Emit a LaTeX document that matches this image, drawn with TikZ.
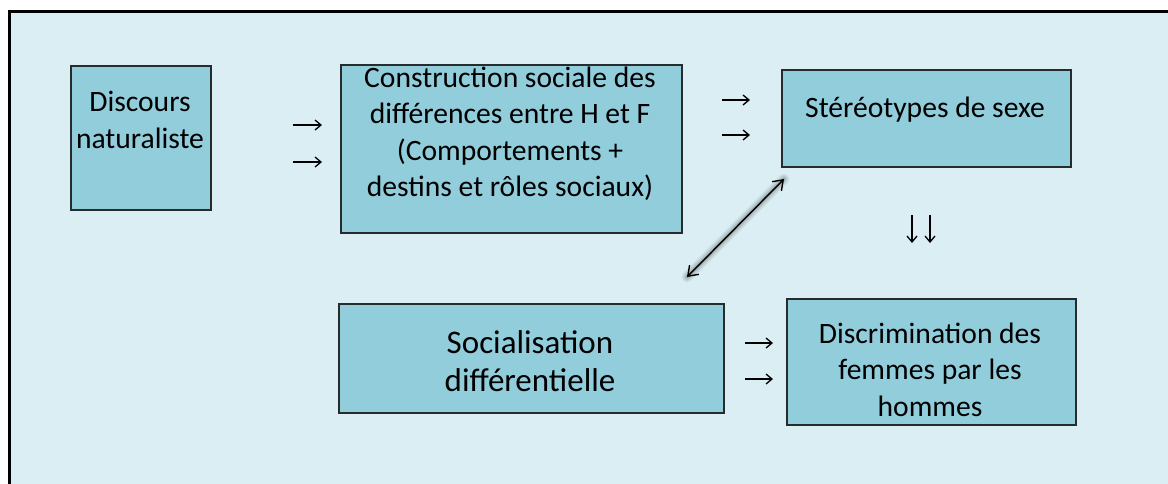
\documentclass[tikz,border=0pt]{standalone}
\usepackage{fontspec}
\setmainfont{Carlito}
\usetikzlibrary{arrows.meta}
\definecolor{bgblue}{HTML}{DAEEF3}
\definecolor{boxblue}{HTML}{92CDDC}
\definecolor{edgecol}{HTML}{262B2D}
\begin{document}
\begin{tikzpicture}[x=1pt,y=-1pt,
  box/.style={draw=edgecol, line width=1.8pt, fill=boxblue, anchor=north west, inner sep=0pt},
  lbl/.style={align=center, anchor=base, font=\fontsize{29.6}{36.5}\selectfont, inner sep=0pt},
  lblbig/.style={align=center, anchor=base, font=\fontsize{33}{37.5}\selectfont, inner sep=0pt},
  smallarrow/.style={line width=1.3pt, -{Straight Barb[length=6pt,width=10pt]}},
  bigarrow/.style={line width=1.4pt, {Straight Barb[length=9pt,width=13pt]}-{Straight Barb[length=9pt,width=13pt]}},
]
\useasboundingbox (0,0) rectangle (1168,483);
\fill[white] (0,0) rectangle (1168,483);
\draw[line width=2.6pt, fill=bgblue] (9.5,11.5) rectangle (1190,500);

\node[box, minimum width=140pt, minimum height=144pt] (b1) at (70,65) {};
\node[box, minimum width=341pt, minimum height=168pt] (b2) at (340,64) {};
\node[box, minimum width=289pt, minimum height=97pt] (b3) at (781,69) {};
\node[box, minimum width=385pt, minimum height=109pt] (b4) at (338,303) {};
\node[box, minimum width=289pt, minimum height=126pt] (b5) at (786,298) {};

% base anchor = baseline of the last line
\node[lbl] (t1) at (140,148) {Discours\\naturaliste};
\node[lbl] (t2) at (510,196.5) {Construction sociale des\\différences entre H et F\\(Comportements +\\destins et rôles sociaux)};
\node[lbl] (t3) at (925,117) {Stéréotypes de sexe};
\node[lblbig] (t4) at (530,391) {Socialisation\\différentielle};
\node[lbl] (t5) at (930,416) {Discrimination des\\femmes par les\\hommes};

\coordinate (p1a) at (293,125); \coordinate (q1a) at (322,125);
\coordinate (p1b) at (293,162); \coordinate (q1b) at (322,162);
\coordinate (p2a) at (722,100); \coordinate (q2a) at (750,100);
\coordinate (p2b) at (722,135); \coordinate (q2b) at (750,135);
\coordinate (p3a) at (745,343); \coordinate (q3a) at (773,343);
\coordinate (p3b) at (745,379); \coordinate (q3b) at (773,379);
\coordinate (d1a) at (912,215); \coordinate (d1b) at (912,243);
\coordinate (d2a) at (930,215); \coordinate (d2b) at (930,243);
\coordinate (e1) at (687,277); \coordinate (e2) at (784,179);

\foreach \s/\t in {p1a/q1a,p1b/q1b,p2a/q2a,p2b/q2b,p3a/q3a,p3b/q3b,d1a/d1b,d2a/d2b}
  \draw[smallarrow] (\s) -- (\t);

\begin{scope}[shift={(3,6)}]
  \foreach \w/\o in {11/0.05,8/0.07,5/0.09,2.5/0.12}
    \draw[line width=\w pt, black, opacity=\o, line cap=round] (e1) -- (e2);
\end{scope}
\draw[bigarrow] (e1) -- (e2);
\end{tikzpicture}
\end{document}
